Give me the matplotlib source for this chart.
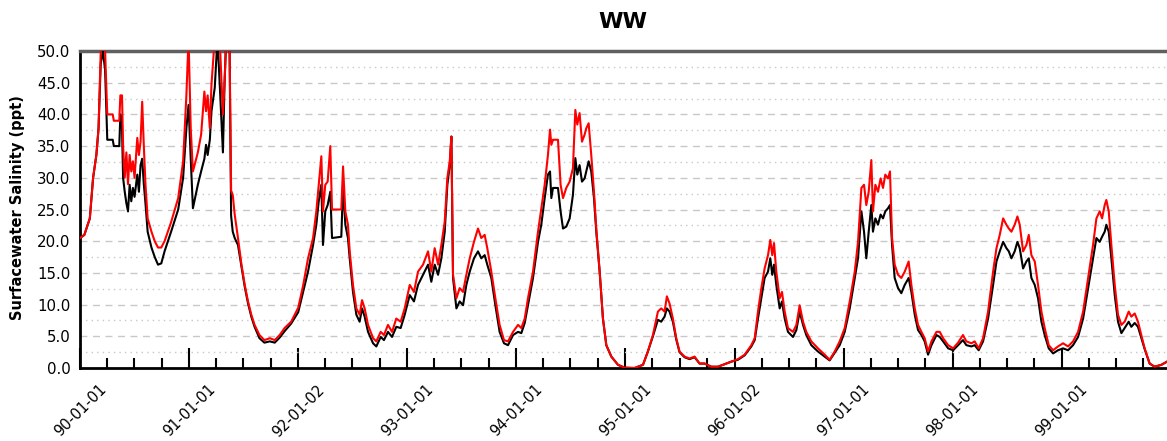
import numpy as np
import pandas as pd
import matplotlib
matplotlib.use("Agg")
import matplotlib.pyplot as plt

# sample times as decimal years after 1990-01-01, with the two salinity traces (ppt)
years = [
    0.00, 0.04, 0.09, 0.12, 0.15, 0.17, 0.19, 0.21, 0.23, 0.25, 0.30, 0.31, 0.36, 0.37, 0.385,
    0.395, 0.41, 0.425, 0.44, 0.455, 0.47, 0.485, 0.50, 0.525, 0.54, 0.555, 0.57, 0.585, 0.60,
    0.62, 0.655, 0.685, 0.715, 0.745, 0.775, 0.835, 0.90, 0.945, 0.975, 0.995, 1.015, 1.035,
    1.08, 1.11, 1.14, 1.155, 1.17, 1.19, 1.205, 1.235, 1.26, 1.28, 1.31, 1.325, 1.34, 1.37,
    1.385, 1.40, 1.418, 1.448, 1.48, 1.51, 1.54, 1.57, 1.60, 1.645, 1.69, 1.74, 1.785, 1.83,
    1.875, 1.935, 2.00, 2.045, 2.09, 2.136, 2.166, 2.188, 2.212, 2.227, 2.248, 2.27, 2.294,
    2.31, 2.395, 2.411, 2.432, 2.456, 2.472, 2.502, 2.533, 2.563, 2.585, 2.609, 2.640, 2.686,
    2.716, 2.756, 2.786, 2.823, 2.860, 2.899, 2.939, 2.976, 3.022, 3.061, 3.098, 3.144, 3.190,
    3.220, 3.251, 3.282, 3.312, 3.343, 3.367, 3.389, 3.404, 3.419, 3.450, 3.480, 3.511, 3.541,
    3.572, 3.611, 3.648, 3.678, 3.709, 3.733, 3.770, 3.807, 3.846, 3.886, 3.923, 3.969, 4.015,
    4.045, 4.076, 4.106, 4.152, 4.198, 4.228, 4.259, 4.289, 4.308, 4.320, 4.335, 4.381, 4.405,
    4.427, 4.457, 4.488, 4.518, 4.540, 4.558, 4.579, 4.601, 4.625, 4.640, 4.662, 4.686, 4.711,
    4.732, 4.763, 4.793, 4.824, 4.870, 4.931, 4.992, 5.083, 5.160, 5.205, 5.251, 5.297, 5.327,
    5.358, 5.379, 5.403, 5.434, 5.465, 5.495, 5.541, 5.587, 5.633, 5.679, 5.725, 5.786, 5.847,
    5.908, 5.969, 6.031, 6.092, 6.153, 6.184, 6.214, 6.245, 6.275, 6.306, 6.327, 6.345, 6.361,
    6.382, 6.413, 6.434, 6.459, 6.489, 6.535, 6.566, 6.596, 6.627, 6.657, 6.703, 6.764, 6.826,
    6.871, 6.917, 6.963, 7.009, 7.055, 7.101, 7.131, 7.162, 7.186, 7.207, 7.229, 7.253, 7.268,
    7.290, 7.314, 7.338, 7.360, 7.381, 7.406, 7.424, 7.443, 7.467, 7.498, 7.528, 7.559, 7.595,
    7.620, 7.651, 7.681, 7.712, 7.742, 7.773, 7.804, 7.850, 7.880, 7.911, 7.957, 8.003, 8.048,
    8.093, 8.124, 8.170, 8.200, 8.237, 8.277, 8.323, 8.369, 8.400, 8.430, 8.461, 8.491, 8.513,
    8.537, 8.567, 8.592, 8.613, 8.644, 8.674, 8.696, 8.720, 8.751, 8.781, 8.812, 8.842, 8.879,
    8.919, 8.964, 9.010, 9.056, 9.102, 9.148, 9.194, 9.240, 9.285, 9.316, 9.346, 9.368, 9.392,
    9.407, 9.429, 9.453, 9.484, 9.514, 9.545, 9.575, 9.612, 9.636, 9.667, 9.697, 9.728, 9.758,
    9.804, 9.850, 9.911, 9.963,
]

red_ppt = [
    20.5, 21.0, 23.6, 30.0, 33.6, 37.8, 50.0, 52.0, 50.0, 40.0, 40.0, 39.0, 39.0, 43.0, 43.0,
    35.0, 30.0, 34.0, 29.0, 33.6, 31.0, 32.6, 30.0, 36.3, 33.6, 35.7, 42.0, 35.0, 29.0,
    23.6, 21.5, 20.0, 19.0, 19.0, 20.0, 23.0, 26.8, 32.6, 43.0, 52.0, 37.8, 31.0,
    34.0, 36.8, 43.6, 40.5, 43.0, 37.8, 44.7, 52.0, 52.0, 52.0, 40.0, 45.0, 52.0, 52.0,
    28.0, 27.3, 24.2, 20.5, 16.3, 13.1, 10.5, 8.4, 6.8, 5.2, 4.4, 4.7, 4.4, 5.2,
    6.3, 7.3, 9.5, 13.0, 17.3, 20.5, 24.7, 28.9, 33.4, 24.7, 28.9, 29.4, 35.0,
    25.0, 25.0, 31.8, 24.7, 22.6, 18.4, 13.1, 9.4, 8.4, 10.7, 9.4, 6.8, 4.7,
    4.2, 5.7, 5.2, 6.8, 5.7, 7.8, 7.3, 9.4, 13.1, 12.0, 15.2, 16.3, 18.4,
    15.2, 18.9, 16.3, 19.4, 23.1, 30.0, 32.6, 36.5, 14.7, 11.0, 12.6, 12.0, 14.7,
    17.3, 19.9, 22.0, 20.5, 21.0, 18.9, 15.2, 11.0, 6.8, 4.4, 4.2, 5.7, 6.8,
    6.3, 7.8, 11.0, 15.2, 21.5, 25.2, 28.9, 33.6, 37.6, 35.2, 36.0, 36.0, 28.9,
    26.8, 28.4, 29.4, 31.5, 40.7, 38.4, 40.2, 35.7, 36.8, 37.8, 38.6, 33.6, 27.8,
    22.0, 15.2, 7.8, 3.6, 1.8, 0.5, 0.05, 0.0, 0.5, 2.6, 5.2, 8.9, 9.4,
    8.9, 11.3, 10.2, 7.8, 4.7, 2.6, 1.8, 1.5, 1.8, 0.7, 0.7, 0.2, 0.2,
    0.6, 1.0, 1.4, 2.1, 3.6, 4.7, 8.9, 12.6, 15.7, 17.8, 20.2, 17.8, 19.7,
    15.2, 11.0, 12.0, 8.9, 6.3, 5.7, 6.8, 9.9, 7.3, 5.7, 4.2, 3.1, 2.1,
    1.3, 2.6, 4.2, 6.3, 10.5, 15.2, 19.9, 28.4, 28.9, 25.7, 27.8, 32.8, 24.7,
    28.9, 27.8, 29.9, 28.4, 30.5, 29.9, 31.0, 20.5, 16.3, 14.7, 14.2, 15.2, 16.8,
    13.1, 9.4, 6.8, 5.7, 4.7, 2.6, 4.2, 5.7, 5.7, 4.7, 3.6, 3.1, 4.0,
    5.2, 4.2, 3.9, 4.2, 3.1, 4.7, 8.9, 15.2, 18.9, 21.0, 23.6, 22.6, 22.0,
    21.5, 22.6, 23.9, 22.6, 18.4, 19.4, 21.0, 17.8, 16.8, 13.1, 8.9, 6.3, 3.6,
    2.8, 3.4, 3.9, 3.4, 4.2, 5.7, 8.9, 14.2, 19.4, 23.6, 24.7, 23.6, 25.7,
    26.5, 24.7, 19.4, 13.1, 8.4, 6.8, 7.3, 8.9, 8.1, 8.6, 7.3, 5.2, 3.1,
    0.7, 0.2, 0.5, 1.0,
]

black_ppt = [
    20.5, 21.0, 23.6, 30.0, 33.6, 37.8, 48.0, 50.0, 47.0, 36.0, 36.0, 35.0, 35.0, 40.0, 38.0,
    30.0, 27.8, 26.0, 24.7, 28.9, 26.3, 28.4, 27.0, 30.5, 27.8, 32.0, 33.0, 29.0, 26.0,
    21.5, 19.0, 17.5, 16.3, 16.5, 18.4, 21.5, 25.0, 30.0, 37.8, 41.5, 33.0, 25.2,
    28.9, 31.0, 33.0, 35.2, 33.6, 36.0, 40.5, 44.2, 52.0, 45.0, 34.0, 45.0, 52.0, 52.0,
    24.0, 21.5, 20.5, 19.4, 16.0, 12.8, 10.2, 8.1, 6.5, 4.7, 4.0, 4.2, 4.0, 4.8,
    5.8, 7.0, 8.8, 12.0, 15.2, 19.4, 22.6, 26.3, 28.9, 19.4, 24.7, 25.7, 27.8,
    20.5, 20.7, 28.9, 22.6, 20.5, 17.3, 12.0, 8.4, 7.3, 9.4, 8.1, 5.7, 3.9,
    3.4, 4.9, 4.4, 5.7, 4.9, 6.5, 6.3, 8.4, 11.5, 10.5, 13.1, 14.7, 16.3,
    13.6, 16.3, 14.7, 17.3, 21.5, 28.9, 32.0, 36.5, 14.2, 9.4, 10.5, 9.9, 13.1,
    15.2, 17.3, 18.4, 17.3, 17.8, 16.3, 14.2, 9.9, 5.7, 3.9, 3.6, 5.2, 5.7,
    5.5, 7.1, 9.9, 14.2, 19.9, 22.6, 26.8, 30.5, 31.0, 26.8, 28.4, 28.4, 24.7,
    22.0, 22.3, 23.6, 27.3, 33.1, 30.5, 32.0, 29.4, 29.9, 31.0, 32.6, 31.0, 26.8,
    21.5, 15.2, 7.8, 3.6, 1.8, 0.5, 0.05, 0.0, 0.5, 2.6, 5.0, 7.6, 7.3,
    8.1, 9.4, 8.9, 7.3, 4.5, 2.5, 1.7, 1.4, 1.7, 0.7, 0.7, 0.2, 0.2,
    0.6, 1.0, 1.3, 2.0, 3.4, 4.4, 7.8, 11.0, 14.2, 15.2, 17.3, 14.7, 16.3,
    13.1, 9.4, 10.5, 7.8, 5.7, 4.9, 6.0, 8.9, 6.8, 5.2, 3.6, 2.6, 1.8,
    1.2, 2.4, 3.6, 5.7, 9.4, 14.2, 17.3, 24.7, 21.5, 17.3, 21.5, 25.7, 21.5,
    23.6, 22.6, 24.2, 23.6, 24.7, 25.2, 25.7, 19.4, 14.2, 12.6, 11.8, 13.1, 14.2,
    12.0, 8.4, 6.0, 5.2, 4.2, 2.1, 3.6, 5.2, 4.9, 4.2, 3.1, 2.8, 3.6,
    4.4, 3.6, 3.4, 3.6, 2.8, 4.2, 7.8, 13.1, 16.8, 18.4, 19.9, 18.9, 18.4,
    17.3, 18.4, 19.9, 18.9, 15.7, 16.8, 17.3, 14.2, 13.1, 11.0, 7.3, 5.2, 3.1,
    2.3, 2.8, 3.1, 2.8, 3.6, 4.9, 7.8, 12.6, 17.3, 20.5, 19.9, 20.7, 21.5,
    22.6, 21.5, 17.3, 11.5, 7.3, 5.5, 6.3, 7.3, 6.5, 7.1, 6.5, 4.7, 3.0,
    0.7, 0.2, 0.5, 1.0,
]

tick_dates = ["1990-01-01", "1991-01-01", "1992-01-02", "1993-01-01", "1994-01-01",
              "1995-01-01", "1996-01-02", "1997-01-01", "1998-01-01", "1999-01-01"]
tick_labels = ["90-01-01", "91-01-01", "92-01-02", "93-01-01", "94-01-01",
               "95-01-01", "96-01-02", "97-01-01", "98-01-01", "99-01-01"]

start = pd.Timestamp("1990-01-01")
dates = start + pd.to_timedelta(np.array(years) * 365.25, unit="D")

W, H = 1167, 441
fig = plt.figure(figsize=(W / 100, H / 100), dpi=100)
ax = fig.add_axes([80 / W, 73 / H, 1087 / W, 317 / H])

ax.plot(dates, black_ppt, color="black", lw=1.5, zorder=3)
ax.plot(dates, red_ppt, color="#ff0000", lw=1.5, zorder=4)

ax.set_ylim(0, 50)
ax.set_xlim(start, start + pd.Timedelta(days=9.963 * 365.25))

yt = np.arange(0, 50.1, 5)
ax.set_yticks(yt)
ax.set_yticklabels([f"{v:.1f}" for v in yt], fontsize=10.8)
ax.set_yticks(yt[:-1] + 2.5, minor=True)
ax.tick_params(axis="y", which="both", length=0, pad=7)
ax.yaxis.grid(True, which="major", linestyle=(0, (5, 4)), color="#c8c8c8", lw=1)
ax.yaxis.grid(True, which="minor", linestyle=(0, (1, 3)), color="#c8c8c8", lw=1)
ax.set_axisbelow(True)

ax.set_xticks(pd.to_datetime(tick_dates))
ax.set_xticklabels(tick_labels, rotation=45, ha="center", fontsize=10.5)
quarters = [pd.Timestamp(f"{y}-{m}-01") for y in range(1990, 2000) for m in ("04", "07", "10")]
ax.set_xticks(quarters, minor=True)
ax.tick_params(axis="x", which="major", direction="in", length=14.4, width=1.5, pad=10)
ax.tick_params(axis="x", which="minor", direction="in", length=7.2, width=1.5)

ax.spines["top"].set_color("#606060")
ax.spines["top"].set_linewidth(2.5)
ax.spines["left"].set_linewidth(2)
ax.spines["bottom"].set_linewidth(2)
ax.spines["right"].set_visible(False)

fig.text(623 / W, 1 - 22 / H, "WW", ha="center", va="center", fontsize=16, weight="bold")
fig.text(18 / W, 1 - 208 / H, "Surfacewater Salinity (ppt)", ha="center", va="center",
         rotation=90, fontsize=10.5, weight="bold")

fig.savefig("out.png", dpi=100)
